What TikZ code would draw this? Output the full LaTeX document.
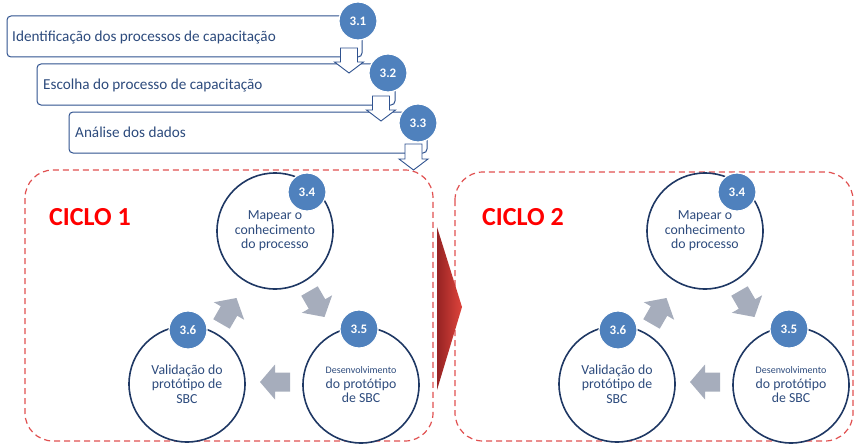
\documentclass[tikz,border=0pt]{standalone}
\usepackage{fontspec}
\setmainfont{Carlito}
\usetikzlibrary{shapes.geometric}
\definecolor{boxline}{RGB}{47,82,143}
\definecolor{boxtext}{RGB}{45,75,125}
\definecolor{ringline}{RGB}{31,56,100}
\definecolor{badgefill}{RGB}{79,129,189}
\definecolor{arrowgray}{RGB}{166,173,188}
\definecolor{cyclered}{RGB}{224,80,80}
\definecolor{darkred}{RGB}{150,35,35}
\definecolor{brightred}{RGB}{222,68,60}

\tikzset{
  stepbox/.style={draw=boxline, line width=1pt, rounded corners=4pt, fill=white},
  steptext/.style={anchor=west, text=boxtext, font=\fontsize{15.2}{17}\selectfont, inner sep=0pt},
  badge/.style={circle, fill=badgefill, draw=white, line width=1.2pt, minimum size=38pt,
                inner sep=0pt, text=white, font=\bfseries\fontsize{13}{15}\selectfont},
  ring/.style={circle, draw=ringline, line width=1.6pt, fill=white, minimum size=116pt,
               inner sep=0pt, align=center, text=boxtext,
               font=\fontsize{13.8}{14.5}\selectfont},
  cyclebox/.style={draw=cyclered, line width=1.2pt, dash pattern=on 6pt off 4pt,
                   rounded corners=28pt},
  cyclelabel/.style={anchor=west, text=red, font=\bfseries\fontsize{26}{28}\selectfont, inner sep=0pt},
  hollowdown/.style={draw=boxline, line width=0.9pt, fill=white, line join=miter},
  blockarrow/.pic={
    \fill[arrowgray] (-15,-9.5) -- (0,-9.5) -- (0,-17.5) -- (15,0) -- (0,17.5) -- (0,9.5) -- (-15,9.5) -- cycle;
  }
}

% one hollow downward arrow centred on x, from shaft top y0 to tip y2
\newcommand{\downarrowat}[3]{%
  \draw[hollowdown] (#1-8.5,#2) -- (#1+8.5,#2) -- (#1+8.5,#3-11) -- (#1+14.5,#3-11)
    -- (#1,#3) -- (#1-14.5,#3-11) -- (#1-8.5,#3-11) -- cycle;}

% one cycle of three steps, shifted horizontally
\newcommand{\cycleblock}[2]{%
  \begin{scope}[xshift=#1pt]
    \node[ring] (#2top) at (275,231) {Mapear o\\conhecimento\\do processo};
    \node[ring] (#2left) at (187,384) {Validação do\\protótipo de\\SBC};
    \node[ring] (#2right) at (361,385) {{\fontsize{10}{12}\selectfont Desenvolvimento}\\do protótipo\\de SBC};
    \node[badge] (#2b34) at (307,192) {3.4};
    \node[badge] (#2b35) at (359,329) {3.5};
    \node[badge] (#2b36) at (188,330) {3.6};
    \pic[rotate=60] at (229,311) {blockarrow};
    \pic[rotate=-60] at (317,304) {blockarrow};
    \pic[rotate=180] at (275,382) {blockarrow};
  \end{scope}}

\begin{document}
\begin{tikzpicture}[x=1pt, y=-1pt]
  \useasboundingbox (0,0) rectangle (856,444);
  \clip (0,0) rectangle (856,444);

  % the three preparatory steps
  \draw[stepbox] (7,16) rectangle (362,57);
  \draw[stepbox] (37,64) rectangle (395,105);
  \draw[stepbox] (69,112) rectangle (427,153);
  \node[steptext] (t1) at (12,37) {Identificação dos processos de capacitação};
  \node[steptext] (t2) at (43,85) {Escolha do processo de capacitação};
  \node[steptext] (t3) at (75,132) {Análise dos dados};
  \downarrowat{349}{48}{73}
  \downarrowat{381}{96}{121}
  \downarrowat{413.5}{144}{170}
  \node[badge] (b31) at (358,21) {3.1};
  \node[badge] (b32) at (388,73) {3.2};
  \node[badge] (b33) at (418,123) {3.3};

  % dashed frames of the two cycles
  \draw[cyclebox] (25,170) rectangle (433,441);
  \draw[cyclebox] (455,172) rectangle (853,441);
  \node[cyclelabel] (c1) at (49,217) {CICLO 1};
  \node[cyclelabel] (c2) at (482,217) {CICLO 2};

  % transition arrow between the cycles
  \shade[left color=darkred, right color=brightred] (437,227) -- (462,307) -- (437,390) -- cycle;

  \cycleblock{0}{a}
  \cycleblock{430}{b}
\end{tikzpicture}
\end{document}
